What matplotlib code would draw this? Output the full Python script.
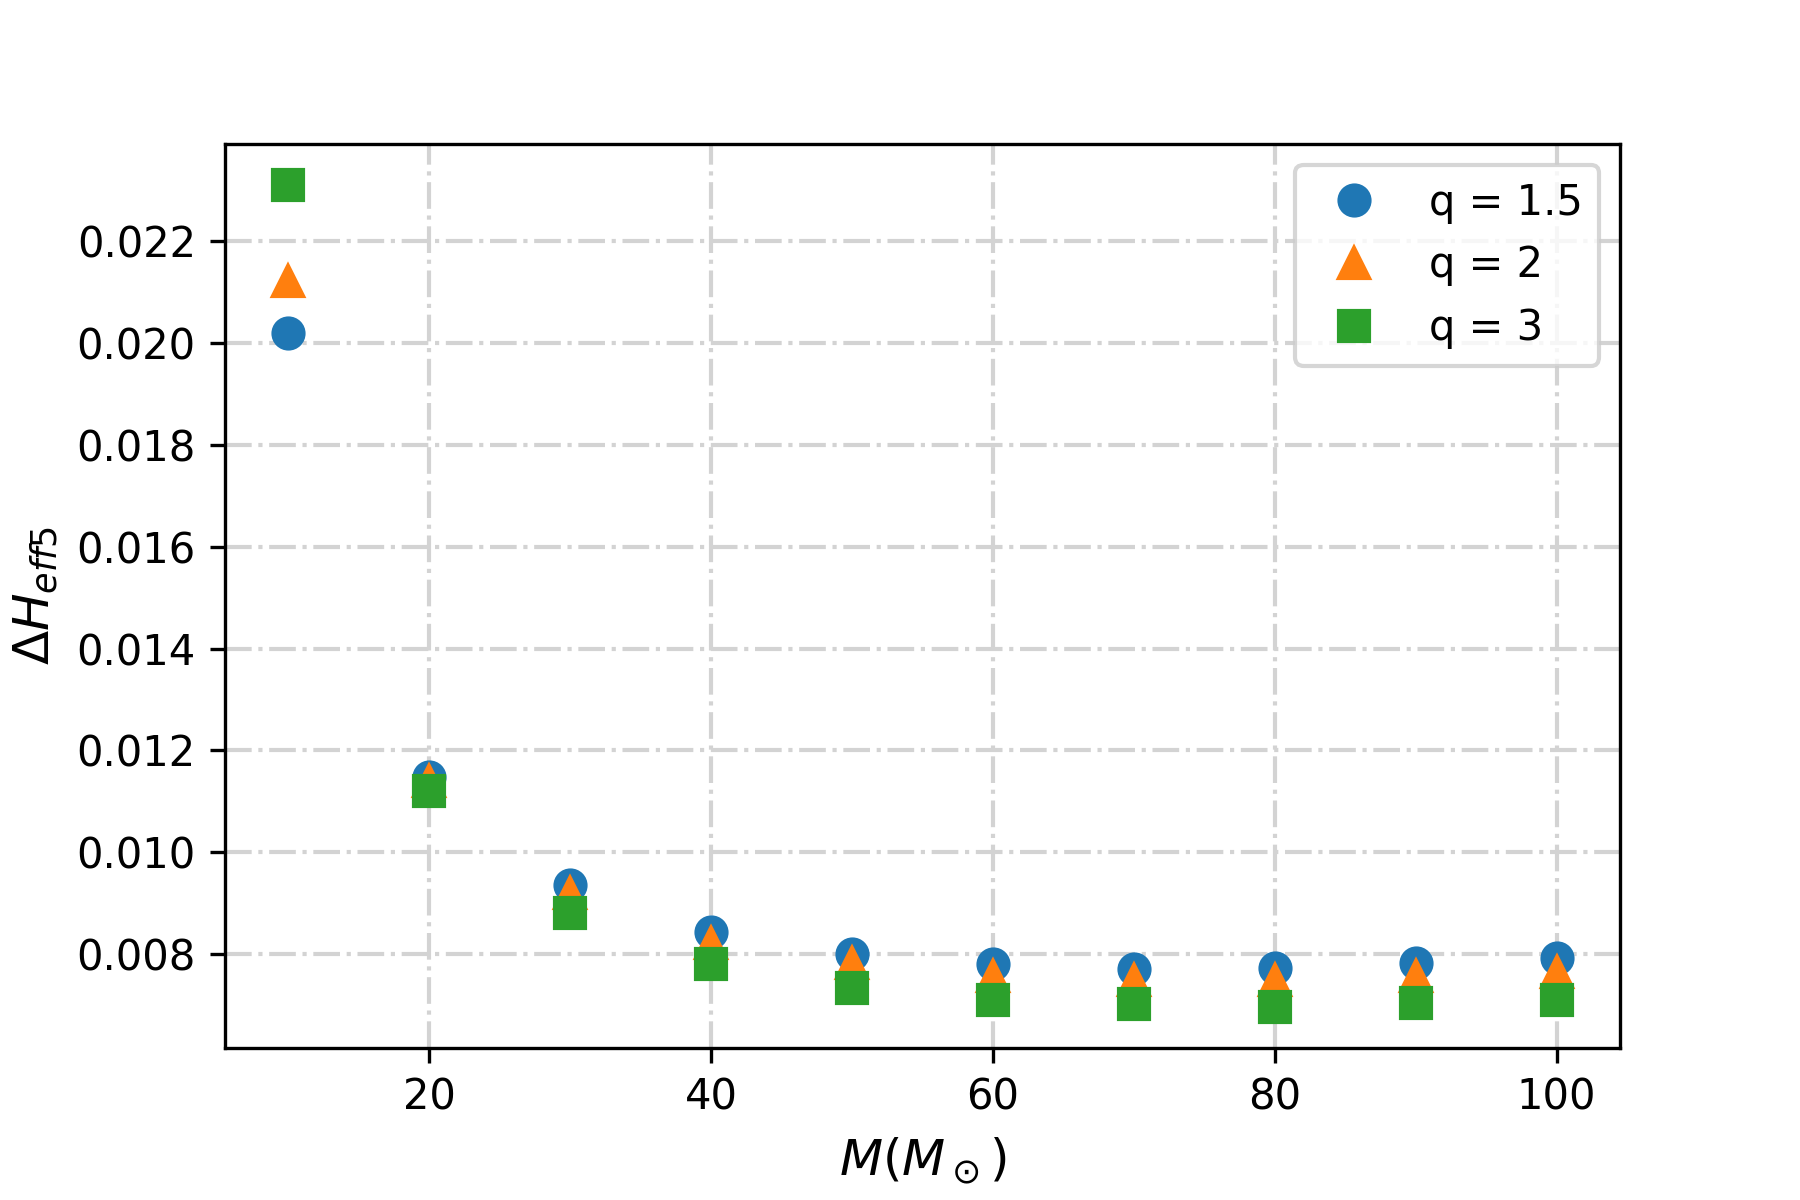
import numpy as np
import matplotlib
matplotlib.use("Agg")
import matplotlib.pyplot as plt


masses = [10, 20, 30, 40, 50, 60, 70, 80, 90, 100]

dh_q15 = [0.02020, 0.01148, 0.00935, 0.00843, 0.00800, 0.00780, 0.00771, 0.00773, 0.00782, 0.00793]
dh_q2 = [0.02121, 0.01140, 0.00920, 0.00822, 0.00782, 0.00757, 0.00750, 0.00750, 0.00757, 0.00764]
dh_q3 = [0.02310, 0.01121, 0.00881, 0.00780, 0.00733, 0.00710, 0.00701, 0.00697, 0.00703, 0.00710]


def main():
    fig, ax = plt.subplots(figsize=(6, 4), dpi=300)
    fig.subplots_adjust(bottom=0.127)

    ax.plot(masses, dh_q15, "o", markersize=7.2, color="#1f77b4", label="q = 1.5")
    ax.plot(masses, dh_q2, "^", markersize=7.2, color="#ff7f0e", label="q = 2")
    ax.plot(masses, dh_q3, "s", markersize=7.2, color="#2ca02c", label="q = 3")

    ax.set_xlabel(r"$M(M_\odot)$", fontsize=12)
    ax.set_ylabel(r"$\Delta H_{eff5}$", fontsize=12)
    ax.grid(True, color="lightgray", linestyle="-.", linewidth=1)
    ax.legend(loc="upper right")

    fig.savefig("out.png", dpi=300)


if __name__ == "__main__":
    main()
